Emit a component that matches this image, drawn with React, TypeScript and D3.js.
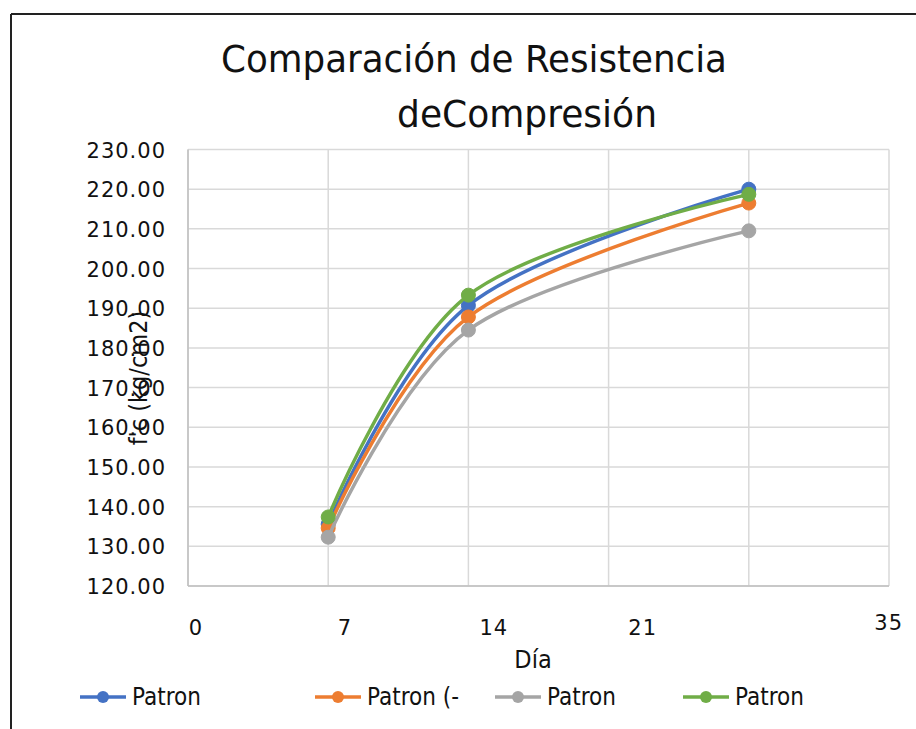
import React from "react";
import * as d3 from "d3";

const days = [7, 14, 28];
const seriesNames = ["Patron", "Patron (-", "Patron", "Patron"];
const seriesColors = ["#4472C4", "#ED7D31", "#A5A5A5", "#70AD47"];
const patron1 = [135.6, 190.7, 220.0];
const patron2 = [134.6, 187.8, 216.5];
const patron3 = [132.3, 184.5, 209.5];
const patron4 = [137.4, 193.3, 218.7];
const seriesValues = [patron1, patron2, patron3, patron4];
const yTicks = [120, 130, 140, 150, 160, 170, 180, 190, 200, 210, 220, 230];
const xGrid = [0, 7, 14, 21, 28, 35];
const xTickLabels = ["0", "7", "14", "21"];

const W = 916;
const H = 729;
const left = 188;
const right = 889;
const top = 149.5;
const bottom = 586;
const font = "'DejaVu Sans Condensed', 'DejaVu Sans', sans-serif";

export default function App() {
  const x = d3.scaleLinear().domain([0, 35]).range([left, right]);
  const y = d3.scaleLinear().domain([120, 230]).range([bottom, top]);

  const line = d3
    .line<number>()
    .x((_, i) => x(days[i]))
    .y((d) => y(d))
    .curve(d3.curveCatmullRom.alpha(0));

  // draw order: blue, orange, gray, green (green on top)
  const order = [0, 1, 2, 3];
  const legendX = [80, 315, 495, 683];

  return (
    <svg
      width={W}
      height={H}
      style={{ position: "absolute", left: 0, top: 0, background: "#fff" }}
    >
      <rect x={0} y={0} width={W} height={H} fill="#fff" />
      {/* chart border */}
      <line x1={11} y1={14} x2={W} y2={14} stroke="#222" strokeWidth={2} />
      <line x1={11} y1={14} x2={11} y2={H} stroke="#222" strokeWidth={2} />

      {/* title */}
      <text
        x={221}
        y={72}
        fontFamily={font}
        fontSize={38}
        textLength={506}
        lengthAdjust="spacingAndGlyphs"
        fill="#111"
      >
        Comparación de Resistencia
      </text>
      <text
        x={397}
        y={127}
        fontFamily={font}
        fontSize={38}
        textLength={260}
        lengthAdjust="spacingAndGlyphs"
        fill="#111"
      >
        deCompresión
      </text>

      {/* grid */}
      {yTicks.map((t) => (
        <line
          key={"gy" + t}
          x1={left}
          x2={right}
          y1={y(t)}
          y2={y(t)}
          stroke="#d9d9d9"
          strokeWidth={1.5}
        />
      ))}
      {xGrid.map((t) => (
        <line
          key={"gx" + t}
          x1={x(t)}
          x2={x(t)}
          y1={top}
          y2={bottom}
          stroke="#d9d9d9"
          strokeWidth={1.5}
        />
      ))}
      <line x1={left} x2={right} y1={bottom} y2={bottom} stroke="#bfbfbf" strokeWidth={1.5} />
      <line x1={left} x2={left} y1={top} y2={bottom} stroke="#bfbfbf" strokeWidth={1.5} />

      {/* y tick labels */}
      {yTicks.map((t) => (
        <text
          key={"ty" + t}
          x={166}
          y={y(t) + 8}
          textAnchor="end"
          fontFamily="'DejaVu Sans', sans-serif"
          fontSize={21}
          letterSpacing={1}
          fill="#111"
        >
          {t.toFixed(2)}
        </text>
      ))}

      {/* x tick labels (shifted like the original) */}
      {xTickLabels.map((t, i) => (
        <text
          key={"tx" + t}
          x={x(+t) + 8 + 8.7 * i}
          y={635}
          textAnchor="middle"
          fontFamily="'DejaVu Sans', sans-serif"
          fontSize={21}
          letterSpacing={1}
          fill="#111"
        >
          {t}
        </text>
      ))}
      <text
        x={x(35) + 14}
        y={630}
        textAnchor="end"
        fontFamily="'DejaVu Sans', sans-serif"
        fontSize={21}
        letterSpacing={1}
        fill="#111"
      >
        35
      </text>

      {/* axis titles */}
      <text
        x={533}
        y={668}
        textAnchor="middle"
        fontFamily={font}
        fontSize={25}
        fill="#111"
      >
        Día
      </text>
      <text
        transform={`translate(147, 378) rotate(-90)`}
        textAnchor="middle"
        fontFamily={font}
        fontSize={25}
        fill="#111"
      >
        f'c (kg/cm2)
      </text>

      {/* series */}
      {order.map((s) => (
        <g key={"s" + s}>
          <path
            d={line(seriesValues[s]) || ""}
            fill="none"
            stroke={seriesColors[s]}
            strokeWidth={3.5}
            strokeLinecap="round"
          />
          {seriesValues[s].map((v, i) => (
            <circle
              key={i}
              cx={x(days[i])}
              cy={y(v)}
              r={7}
              fill={seriesColors[s]}
              stroke={seriesColors[s]}
            />
          ))}
        </g>
      ))}

      {/* legend */}
      {seriesNames.map((n, i) => (
        <g key={"l" + i}>
          <line
            x1={legendX[i]}
            x2={legendX[i] + 46}
            y1={697}
            y2={697}
            stroke={seriesColors[i]}
            strokeWidth={3.5}
          />
          <circle cx={legendX[i] + 23} cy={697} r={6} fill={seriesColors[i]} />
          <text
            x={legendX[i] + 52}
            y={705}
            fontFamily={font}
            fontSize={24}
            fill="#111"
          >
            {n}
          </text>
        </g>
      ))}
    </svg>
  );
}
